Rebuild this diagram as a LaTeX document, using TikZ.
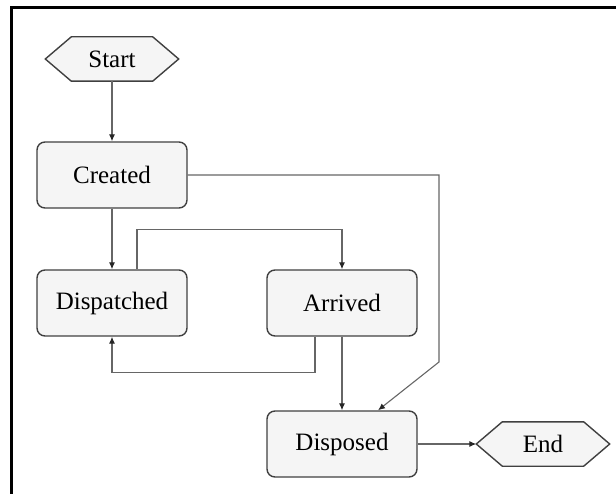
\documentclass[tikz,border=0pt]{standalone}
\usepackage{fontspec}
\setmainfont{Liberation Serif}
\usetikzlibrary{arrows.meta,calc}

\tikzset{
  state/.style={draw=black!75, line width=1.4pt, fill=black!4, rounded corners=8pt,
    minimum width=150pt, minimum height=66pt, inner sep=0pt,
    font=\rmfamily\fontsize{25}{30}\selectfont},
  terminal/.style={draw=none, fill=none, minimum width=133pt, minimum height=44pt,
    inner sep=0pt, font=\rmfamily\fontsize{25}{30}\selectfont},
  hexline/.style={draw=black!75, line width=1.4pt, fill=black!4, line join=miter},
  conn/.style={draw=black!60, line width=1.1pt, -{Latex[length=7pt,width=6pt,color=black!85]}},
  frame/.style={line width=3pt, black}
}

\begin{document}
\begin{tikzpicture}[x=1pt, y=-1pt]
  \useasboundingbox (0,0) rectangle (616,494);

  % cropped outer frame: top and left edges only
  \draw[frame] (616,8) -- (11.5,8) -- (11.5,494);

  % terminals (hexagons)
  \node[terminal] (start) at (112,59) {};
  \path[hexline] (start.west) -- ([xshift=26pt]start.north west) -- ([xshift=-26pt]start.north east)
     -- (start.east) -- ([xshift=-26pt]start.south east) -- ([xshift=26pt]start.south west) -- cycle;
  \node[terminal] at (start) {Start};

  \node[terminal] (end) at (543,444) {};
  \path[hexline] (end.west) -- ([xshift=26pt]end.north west) -- ([xshift=-26pt]end.north east)
     -- (end.east) -- ([xshift=-26pt]end.south east) -- ([xshift=26pt]end.south west) -- cycle;
  \node[terminal] at (end) {End};

  % states
  \node[state] (created)    at (112,175) {Created};
  \node[state] (dispatched) at (112,303) {Dispatched};
  \node[state] (arrived)    at (342,303) {Arrived};
  \node[state] (disposed)   at (342,444) {Disposed};

  \coordinate (bend) at (439,362);

  % transitions
  \draw[conn] (start.south) -- (created.north);
  \draw[conn] (created.south) -- (dispatched.north);
  \draw[conn] ([xshift=25pt]dispatched.north) -- ++(0,-40) -| (arrived.north);
  \draw[conn] ([xshift=-27pt]arrived.south) -- ++(0,36) -| (dispatched.south);
  \draw[conn] (arrived.south) -- (disposed.north);
  \draw[conn] (created.east) -| (bend) -- ([xshift=36pt]disposed.north);
  \draw[conn] (disposed.east) -- (end.west);
\end{tikzpicture}
\end{document}
